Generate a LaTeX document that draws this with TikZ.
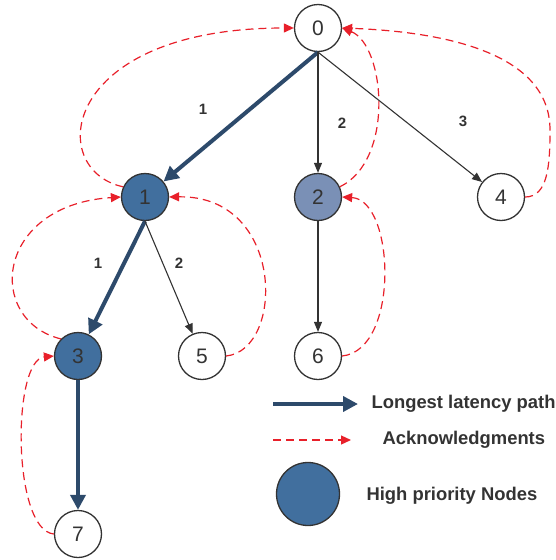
\documentclass[tikz,border=0pt]{standalone}
\usepackage{fontspec}
\setmainfont{Liberation Sans}
\usetikzlibrary{arrows.meta}

\definecolor{pathnavy}{HTML}{2D4A6B}
\definecolor{hotblue}{HTML}{416F9E}
\definecolor{warmblue}{HTML}{7A90B6}
\definecolor{ackred}{HTML}{E8202A}
\definecolor{inkgray}{HTML}{333333}

\tikzset{
  vertex/.style={circle, draw=inkgray, line width=1.3pt, fill=white,
    minimum size=47pt, inner sep=0pt, text=inkgray,
    font=\fontsize{21}{25}\selectfont},
  hot/.style={vertex, fill=hotblue},
  warm/.style={vertex, fill=warmblue},
  longpath/.style={draw=pathnavy, line width=4pt,
    -{Triangle[length=15pt,width=15pt]}},
  link/.style={draw=inkgray, line width=1.1pt,
    -{Triangle[length=10pt,width=8pt]}},
  ack/.style={draw=ackred, line width=1.2pt, dash pattern=on 8pt off 5pt,
    -{Triangle[length=10pt,width=9pt]}},
  weight/.style={text=inkgray, font=\bfseries\fontsize{15}{18}\selectfont},
  legendtext/.style={text=inkgray, anchor=west,
    font=\bfseries\fontsize{18.4}{22}\selectfont},
}

\begin{document}
\begin{tikzpicture}[x=1pt,y=-1pt]
\useasboundingbox (0,0) rectangle (556,560);

% tree nodes
\node[vertex] (n0) at (318,28) {0};
\node[hot]    (n1) at (145,197) {1};
\node[warm]   (n2) at (318,197) {2};
\node[vertex] (n4) at (501,197) {4};
\node[hot]    (n3) at (78,356) {3};
\node[vertex] (n5) at (202,356) {5};
\node[vertex] (n6) at (318,356) {6};
\node[vertex] (n7) at (78,534) {7};

% forward links
\draw[longpath] (n0.south) -- (n1);
\draw[link] (n0.south) -- (n2);
\draw[link] (n0.south) -- (n4);
\draw[longpath] (n1.south) -- (n3);
\draw[link] (n1.south) -- (n5);
\draw[link] (n2) -- (n6);
\draw[longpath] (n3) -- (n7);

% link weights
\node[weight] (w01) at (203,109) {1};
\node[weight] (w02) at (342,123) {2};
\node[weight] (w04) at (463,121) {3};
\node[weight] (w13) at (98,263) {1};
\node[weight] (w15) at (179,263) {2};

% acknowledgments back to the parents
\draw[ack] (n1.155) .. controls (45,170) and (60,28) .. (n0.west);
\draw[ack] (n2.25) .. controls (395,160) and (385,45) .. (n0.east);
\draw[ack] (n4.east) .. controls (548,197) and (550,165) .. (550,130)
  .. controls (550,55) and (450,32) .. (n0.east);
\draw[ack] (n3.135) .. controls (-15,320) and (-5,205) .. (n1.west);
\draw[ack] (n5.east) .. controls (285,350) and (285,195) .. (n1.east);
\draw[ack] (n6.east) .. controls (400,350) and (395,200) .. (n2.east);
\draw[ack] (n7.west) .. controls (12,530) and (12,360) .. (n3.west);

% legend
\coordinate (pathA) at (273,404);
\coordinate (pathB) at (358,404);
\draw[longpath] (pathA) -- (pathB);
\node[legendtext] (pathtxt) at (368,404) {Longest latency path};

\coordinate (ackA) at (273,440);
\coordinate (ackB) at (351,440);
\draw[ack] (ackA) -- (ackB);
\node[legendtext] (acktxt) at (379,440) {Acknowledgments};

\node[circle, draw=inkgray, line width=1.3pt, fill=hotblue,
  minimum size=63pt, inner sep=0pt] (hotkey) at (308,494) {};
\node[legendtext] (hottxt) at (363,496) {High priority Nodes};
\end{tikzpicture}
\end{document}
